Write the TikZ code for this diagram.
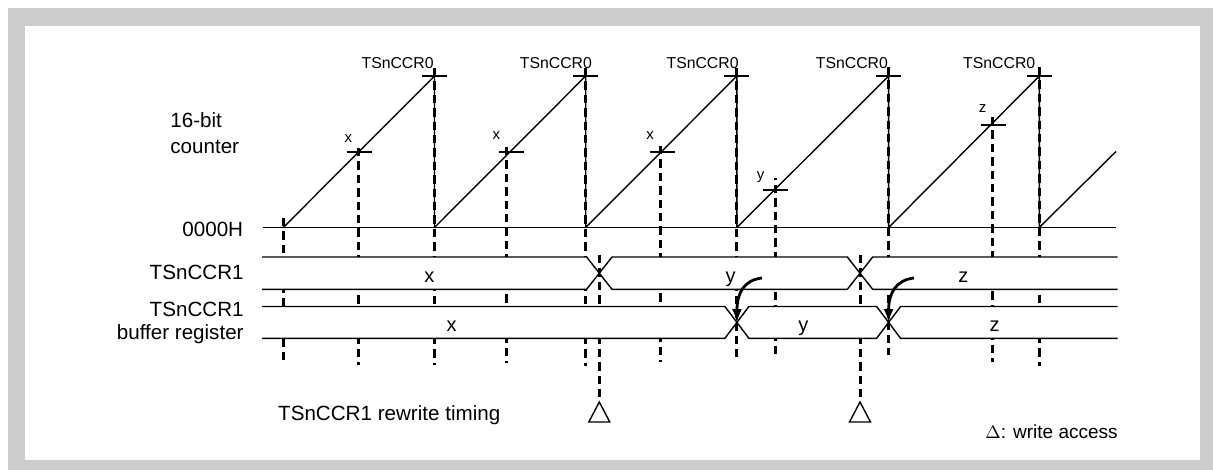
\documentclass[tikz,border=0pt]{standalone}
\usepackage{fontspec}
\setmainfont{Liberation Sans}
\usetikzlibrary{arrows.meta}

\begin{document}
\begin{tikzpicture}[
    x=0.5pt, y=-0.5pt,
    wave/.style={line width=0.7pt, line join=round},
    guide/.style={line width=1.5pt, dash pattern=on 4.2pt off 2.5pt},
    bus/.style={line width=0.7pt, fill=white},
    sidelabel/.style={font=\fontsize{10.3}{12}\selectfont, inner sep=0pt},
    toplabel/.style={font=\fontsize{7.9}{9}\selectfont, inner sep=0pt, anchor=base west},
    ticklabel/.style={font=\fontsize{7.5}{9}\selectfont, inner sep=0pt, anchor=base},
    buslabel/.style={font=\fontsize{10}{12}\selectfont, inner sep=0pt, anchor=base},
    transfer/.style={line width=1.4pt, -{Latex[length=7pt, width=5pt]}},
    wmark/.style={line width=0.7pt, fill=white}
]
    % Frame
    \useasboundingbox (0,0) rectangle (1213,470);
    \fill[black!20] (8,8) rectangle (1213,470);
    \fill[white] (25,26) rectangle (1200,460);

    % Dashed timing guides (the buses are drawn over them)
    \foreach \x/\top/\bot in {283/218/365, 358.3/148/365, 434.5/68/365, 506/147/363,
        585.7/68/366, 660.7/146/362, 736.9/68/357, 775/354/178,
        888.6/67/355, 992/117/362, 1039.3/67/366}
        \draw[guide] (\x,\top) -- (\x,\bot);

    % Write access marks
    \coordinate (wa1) at (599.3,255);
    \coordinate (wa2) at (860,255);
    \coordinate (tri1) at (599.3,402);
    \coordinate (tri2) at (860,402);
    \draw[guide] (wa1) -- (tri1);
    \draw[guide] (wa2) -- (tri2);
    \draw[wmark] (tri1) -- ++(-10.5,20) -- ++(21,0) -- cycle;
    \draw[wmark] (tri2) -- ++(-10.5,20) -- ++(21,0) -- cycle;

    % 16-bit counter
    \draw[wave] (263,227.5) -- (1116,227.5);
    \draw[wave] (283.3,227.5) -- (434.5,76) -- (434.5,227.5) -- (585.7,76) -- (585.7,227.5)
        -- (736.9,76) -- (736.9,227.5) -- (888.6,76) -- (888.6,227.5) -- (1039.3,76)
        -- (1039.3,227.5) -- (1116,151.5);
    \foreach \x/\y in {434.5/76, 585.7/76, 736.9/76, 888.6/76, 1039.3/76,
        359.5/152, 511.8/152, 662.5/152, 775/190, 993/125}
        \draw[wave] (\x-12.5,\y) -- (\x+12.5,\y);

    % Compare values
    \node[toplabel] (ccr0a) at (361.2,68.3) {TSnCCR0};
    \node[toplabel] (ccr0b) at (519.5,68.3) {TSnCCR0};
    \node[toplabel] (ccr0c) at (666.2,68.3) {TSnCCR0};
    \node[toplabel] (ccr0d) at (815.5,68.3) {TSnCCR0};
    \node[toplabel] (ccr0e) at (962.8,68.3) {TSnCCR0};
    \node[ticklabel] (vx1) at (348.3,142.7) {x};
    \node[ticklabel] (vx2) at (496.3,140) {x};
    \node[ticklabel] (vx3) at (650,140) {x};
    \node[ticklabel] (vy) at (760.7,180) {y};
    \node[ticklabel] (vz) at (982.7,112.7) {z};

    % TSnCCR1 register
    \draw[bus] (262,257) -- (586.6,257) -- (599.3,273.2) -- (586.6,289.3) -- (262,289.3);
    \draw[bus] (612,257) -- (599.3,273.2) -- (612,289.3) -- (847.3,289.3) -- (860,273.2)
        -- (847.3,257) -- cycle;
    \draw[bus] (1117.7,257) -- (872.7,257) -- (860,273.2) -- (872.7,289.3) -- (1117.7,289.3);

    % TSnCCR1 buffer register
    \draw[bus] (262,306.5) -- (724.9,306.5) -- (736.9,322.4) -- (724.9,338.3) -- (262,338.3);
    \draw[bus] (748.9,306.5) -- (736.9,322.4) -- (748.9,338.3) -- (876.6,338.3) -- (888.6,322.4)
        -- (876.6,306.5) -- cycle;
    \draw[bus] (1117.7,306.5) -- (900.6,306.5) -- (888.6,322.4) -- (900.6,338.3) -- (1117.7,338.3);

    % Register contents
    \node[buslabel] (rx) at (429.3,282.3) {x};
    \node[buslabel] (ry) at (730.5,282.3) {y};
    \node[buslabel] (rz) at (963.3,282.3) {z};
    \node[buslabel] (bx) at (451.7,331.5) {x};
    \node[buslabel] (by) at (803.3,331.5) {y};
    \node[buslabel] (bz) at (994.5,331.5) {z};

    % Transfer to the buffer register
    \draw[transfer] (762,278) .. controls (744,280) and (737,293) .. (736.9,323);
    \draw[transfer] (914,278) .. controls (896,280) and (888.6,293) .. (888.6,323);

    % Row labels
    \node[sidelabel, anchor=base west] (cnt1) at (170,127.7) {16-bit};
    \node[sidelabel, anchor=base west] (cnt2) at (170,153.3) {counter};
    \node[sidelabel, anchor=base east] (zero) at (243.5,236.7) {0000H};
    \node[sidelabel, anchor=base east] (ccr1) at (244,279.3) {TSnCCR1};
    \node[sidelabel, anchor=base east] (buf1) at (244,316) {TSnCCR1};
    \node[sidelabel, anchor=base east] (buf2) at (244,339.5) {buffer register};
    \node[sidelabel, anchor=base west] (rewr) at (277.8,420.7) {TSnCCR1 rewrite timing};
    \node[font=\fontsize{9.5}{11}\selectfont, inner sep=0pt, anchor=base west] (legend)
        at (985,438.3) {$\Delta$: write access};
\end{tikzpicture}
\end{document}
